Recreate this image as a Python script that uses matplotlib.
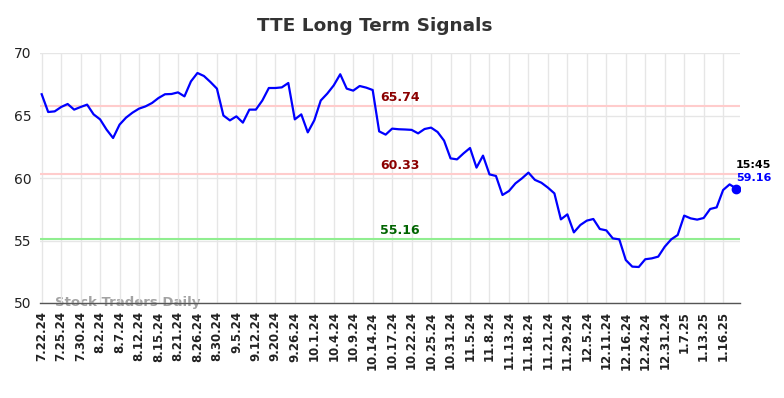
import matplotlib
matplotlib.use("Agg")
import matplotlib.pyplot as plt
import numpy as np

title = "TTE Long Term Signals"

prices = [
    66.70, 65.28, 65.33, 65.68, 65.92, 65.47, 65.68, 65.87, 65.09, 64.69,
    63.87, 63.20, 64.27, 64.83, 65.23, 65.55, 65.73, 66.00, 66.40, 66.70,
    66.72, 66.85, 66.53, 67.73, 68.40, 68.16, 67.68, 67.15, 65.00, 64.61,
    64.93, 64.43, 65.47, 65.47, 66.20, 67.20, 67.20, 67.25, 67.60, 64.69,
    65.09, 63.65, 64.61, 66.20, 66.75, 67.41, 68.30, 67.15, 66.99, 67.36,
    67.23, 67.04, 63.73, 63.47, 63.95, 63.90, 63.88, 63.85, 63.57, 63.92,
    64.03, 63.68, 62.99, 61.57, 61.49, 61.97, 62.40, 60.83, 61.79, 60.29,
    60.16, 58.64, 58.96, 59.57, 59.97, 60.43, 59.85, 59.62, 59.23, 58.77,
    56.69, 57.09, 55.65, 56.24, 56.59, 56.72, 55.92, 55.81, 55.17, 55.09,
    53.44, 52.91, 52.88, 53.50, 53.57, 53.71, 54.50, 55.09, 55.44, 56.99,
    56.77, 56.67, 56.80, 57.52, 57.65, 59.04, 59.49, 59.16,
]

tick_labels = [
    "7.22.24", "7.25.24", "7.30.24", "8.2.24", "8.7.24", "8.12.24", "8.15.24",
    "8.21.24", "8.26.24", "8.30.24", "9.5.24", "9.12.24", "9.20.24", "9.26.24",
    "10.1.24", "10.4.24", "10.9.24", "10.14.24", "10.17.24", "10.22.24",
    "10.25.24", "10.31.24", "11.5.24", "11.8.24", "11.13.24", "11.18.24",
    "11.21.24", "11.29.24", "12.5.24", "12.11.24", "12.16.24", "12.24.24",
    "12.31.24", "1.7.25", "1.13.25", "1.16.25",
]
tick_step = 3

resistance_high = 65.74
resistance_low = 60.33
support = 55.16
last_time = "15:45"

fig = plt.figure(figsize=(7.84, 3.98), dpi=100)
ax = fig.add_axes([40 / 784, 1 - 303 / 398, 700 / 784, 250 / 398])

x = np.arange(len(prices))
ax.plot(x, prices, color="#0000ff", lw=1.6, zorder=3)
ax.plot(x[-1], prices[-1], "o", color="#0000ff", ms=6, zorder=4)

ax.axhline(resistance_high, color="#ffcccc", lw=1.5, zorder=2)
ax.axhline(resistance_low, color="#ffcccc", lw=1.5, zorder=2)
ax.axhline(support, color="#90ee90", lw=1.5, zorder=2)

ax.set_xlim(-0.26, 107.6)
ax.set_ylim(50, 70)

tick_pos = np.arange(len(tick_labels)) * tick_step
ax.set_xticks(tick_pos)
ax.set_xticklabels(tick_labels, rotation=90, fontsize=8.5, fontweight="bold", color="#222222")
ax.set_yticks([50, 55, 60, 65, 70])
ax.set_yticklabels(["50", "55", "60", "65", "70"], fontsize=10, color="#222222")
ax.tick_params(axis="both", length=0, pad=6)

ax.grid(True, color="#e6e6e6", lw=1, zorder=0)
for s in ["top", "right", "left"]:
    ax.spines[s].set_visible(False)
ax.spines["bottom"].set_color("#555555")
ax.spines["bottom"].set_linewidth(1)

label_x = 55.2
ax.text(label_x, resistance_high + 0.15, f"{resistance_high:.2f}", color="#8b0000",
        fontsize=9, fontweight="bold", ha="center", va="bottom")
ax.text(label_x, resistance_low + 0.15, f"{resistance_low:.2f}", color="#8b0000",
        fontsize=9, fontweight="bold", ha="center", va="bottom")
ax.text(label_x, support + 0.15, f"{support:.2f}", color="#006400",
        fontsize=9, fontweight="bold", ha="center", va="bottom")

ax.text(x[-1], prices[-1] + 1.45, last_time, color="black", fontsize=8,
        fontweight="bold", ha="left", va="bottom", clip_on=False)
ax.text(x[-1], prices[-1] + 0.45, f"{prices[-1]:.2f}", color="#0000ff", fontsize=8,
        fontweight="bold", ha="left", va="bottom", clip_on=False)

ax.text(2, 50.05, "Stock Traders Daily", color="#999999", fontsize=9.5,
        fontweight="bold", ha="left", va="center", alpha=0.9, zorder=1)

fig.text(375 / 784, 1 - 26 / 398, title, fontsize=13.3, fontweight="bold",
         color="#333333", ha="center", va="center")

fig.savefig("out.png", dpi=100)
